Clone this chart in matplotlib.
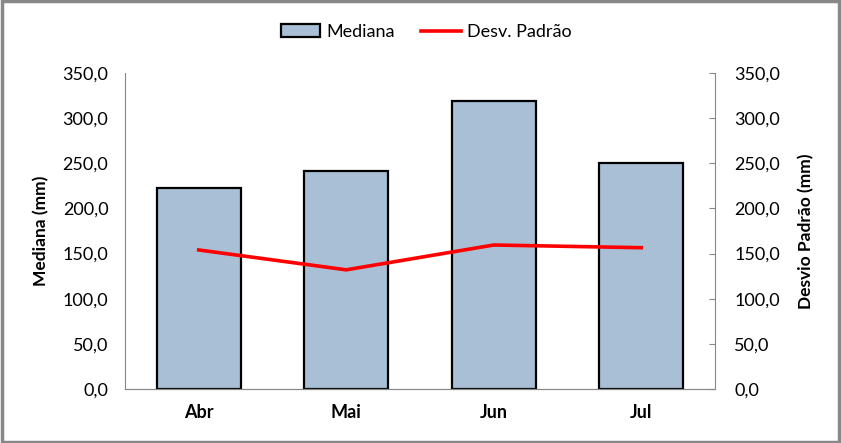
import matplotlib.pyplot as plt
import numpy as np
from matplotlib.ticker import FuncFormatter

plt.rcParams['font.family'] = ['Lato', 'DejaVu Sans']

meses = ['Abr', 'Mai', 'Jun', 'Jul']
mediana = [222.5, 241.5, 319.0, 250.5]
desvio = [154.0, 132.0, 159.5, 156.5]

fig = plt.figure(figsize=(8.41, 4.43), dpi=100)
ax = fig.add_axes([125/841, 1 - 389/443, 590/841, 316/443])
x = np.arange(len(meses))

# checker fill of the original looks like this light steel blue from afar
ax.bar(x, mediana, width=0.57, facecolor='#a9bfd6', edgecolor='black',
       linewidth=1.6, label='Mediana')
ax.set_xlim(-0.5, 3.5)
ax.set_ylim(0, 350)

ax2 = ax.twinx()
ax2.plot(x, desvio, color='#ff0000', linewidth=2.6, label='Desv. Padrão')
ax2.set_ylim(0, 350)

fmt = FuncFormatter(lambda v, p: f'{v:.1f}'.replace('.', ','))
for a in (ax, ax2):
    a.set_yticks(np.arange(0, 351, 50))
    a.yaxis.set_major_formatter(fmt)
    for s in a.spines.values():
        s.set_color('#888888')
    a.spines['top'].set_visible(False)

ax.spines['right'].set_visible(False)
ax2.spines['left'].set_visible(False)
ax.tick_params(axis='y', length=0, labelsize=13, pad=12)
ax2.tick_params(axis='y', direction='in', length=4, color='#888888', labelsize=13, pad=14)
ax.tick_params(axis='x', length=0, labelsize=13, pad=11)
ax.set_xticks(x)
ax.set_xticklabels(meses, fontweight='bold')

ax.set_ylabel('Mediana (mm)', fontweight='bold', fontsize=12.5)
ax2.set_ylabel('Desvio Padrão (mm)', fontweight='bold', fontsize=12.5)
ax.yaxis.set_label_coords(-0.128, 0.5)
ax2.yaxis.set_label_coords(1.140, 0.5)

h1, l1 = ax.get_legend_handles_labels()
h2, l2 = ax2.get_legend_handles_labels()
fig.legend(h1 + h2, l1 + l2, loc='center', bbox_to_anchor=(426/841, 1 - 32/443), ncol=2,
           frameon=False, fontsize=13, handlelength=2.2, handleheight=0.7,
           columnspacing=1.5, handletextpad=0.3)

border = plt.Rectangle((0.002, 0.003), 0.996, 0.994, transform=fig.transFigure,
                       fill=False, edgecolor='#888888', linewidth=2.5)
fig.patches.append(border)

fig.savefig('out.png', dpi=100)
